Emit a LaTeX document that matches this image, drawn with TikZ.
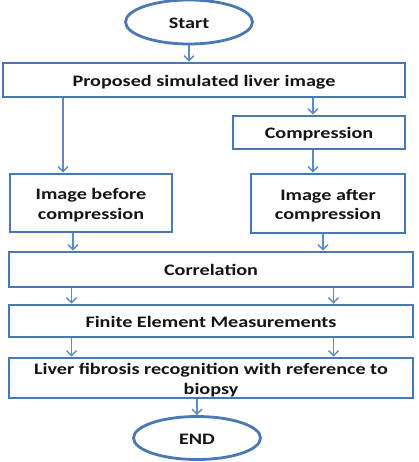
\documentclass[tikz,border=0pt]{standalone}
\usepackage{fontspec}
\setmainfont{Carlito}
\usepackage{graphicx}
\usepackage{xcolor}
\usepackage{tikz}
\usetikzlibrary{shapes,arrows,positioning,calc,arrows.meta}

\definecolor{boxblue}{HTML}{4A78B4}
\definecolor{arrblue}{HTML}{5B8BC6}
\definecolor{txtgray}{HTML}{141414}

% widened text, the reference letters are stretched sideways
\newcommand{\wtxt}[1]{\raisebox{-2.5pt}[\height][\depth]{\scalebox{1.26}[1]{\begin{tabular}{@{}c@{}}#1\end{tabular}}}}

\tikzset{
    stepbox/.style={draw=boxblue, line width=2.8pt, fill=white, text=txtgray, align=center,
        font=\fontsize{16}{19.5}\selectfont\bfseries, inner sep=0pt},
    termnode/.style={ellipse, draw=boxblue, line width=2.8pt, fill=white, text=txtgray,
        font=\fontsize{16}{19.5}\selectfont\bfseries, inner sep=0pt},
    arr/.style={->, draw=arrblue, line width=1.4pt},
}

\begin{document}
\begin{tikzpicture}[x=1pt, y=-1pt, >={Straight Barb[length=5pt,width=10pt]}]
    \useasboundingbox (0,0) rectangle (418,462);

    % Terminals
    \node [termnode, minimum width=127pt, minimum height=44pt] (start) at (189, 22) {\wtxt{Start}};
    \node [termnode, minimum width=127pt, minimum height=43pt] (stop) at (197, 438) {\wtxt{END}};

    % Steps
    \node [stepbox, minimum width=402pt, minimum height=34pt] (prop) at (204, 80) {\wtxt{Proposed simulated liver image}};
    \node [stepbox, minimum width=172pt, minimum height=33pt] (comp) at (319, 132.5) {\wtxt{Compression}};
    \node [stepbox, minimum width=162pt, minimum height=58pt] (bef) at (91, 203) {\wtxt{Image before\\compression}};
    \node [stepbox, minimum width=154pt, minimum height=59pt] (aft) at (328, 203.5) {\wtxt{Image after\\compression}};
    \node [stepbox, minimum width=404pt, minimum height=35pt] (corr) at (211, 269.5) {\wtxt{Correlation}};
    \node [stepbox, minimum width=404pt, minimum height=32pt] (fem) at (211, 321) {\wtxt{Finite Element Measurements}};
    \node [stepbox, minimum width=404pt, minimum height=40pt] (liv) at (211, 378) {\wtxt{Liver fibrosis recognition with reference to\\biopsy}};

    % Branch points
    \coordinate (befin) at ([xshift=-28pt]bef.north);
    \coordinate (compin) at ([xshift=-6pt]comp.north);
    \coordinate (aftin) at ([xshift=-15pt]aft.north);

    % Connectors
    \draw [arr] (start.south) -- (start.south |- prop.north);
    \draw [arr] (befin |- prop.south) -- (befin);
    \draw [arr] (compin |- prop.south) -- (compin);
    \draw [arr] (compin |- comp.south) -- (aftin);
    \draw [arr] ([xshift=-18pt]bef.south) -- ([xshift=-18pt]bef.south |- corr.north);
    \draw [arr] ([xshift=-5pt]aft.south) -- ([xshift=-5pt]aft.south |- corr.north);
    \foreach \a/\b in {corr/fem, fem/liv} {
        \draw [arr] ([xshift=64pt]\a.south west) -- ([xshift=64pt]\b.north west);
        \draw [arr] ([xshift=-81pt]\a.south east) -- ([xshift=-81pt]\b.north east);
    }
    \draw [arr] (stop.north |- liv.south) -- (stop.north);
\end{tikzpicture}
\end{document}
